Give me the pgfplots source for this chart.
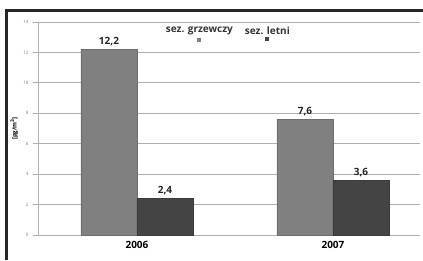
\documentclass[border=0pt]{standalone}
\usepackage{pgfplots}
\pgfplotsset{compat=1.18}
\usepackage{fontspec}
\setmainfont{Open Sans}
\definecolor{barA}{RGB}{128,128,128}
\definecolor{barB}{RGB}{68,68,68}
\definecolor{gridc}{RGB}{175,175,175}
\begin{document}
\begin{tikzpicture}[x=1pt,y=1pt]
\path[use as bounding box] (0,0) rectangle (423,260);
\fill[white] (0,0) rectangle (423,260);
\draw[line width=3pt, black!85] (6,0) -- (6,249) -- (423,249);
\begin{axis}[
  at={(38pt,25pt)}, anchor=south west, scale only axis,
  width=382pt, height=213pt,
  ymin=0, ymax=14, ytick={0,2,...,14},
  xmin=-0.505, xmax=1.444, xtick={0,1}, xticklabels={2006,2007},
  ybar=0pt, bar width=56pt,
  ymajorgrids, grid style={gridc, line width=0.8pt},
  axis x line*=bottom, axis y line*=left,
  axis line style={gridc, line width=0.8pt, -},
  x tick style={draw=none}, y tick style={gridc, line width=0.8pt},
  tick align=outside, major tick length=5pt,
  /pgf/number format/assume math mode=true,
  yticklabel style={font=\fontsize{4.5}{5}\selectfont, text=gray, xshift=-1pt},
  xticklabel style={font=\bfseries\fontsize{10}{11}\selectfont, yshift=2pt},
  ylabel={[pg/m\textsuperscript{3}]},
  ylabel style={font=\bfseries\fontsize{6}{7}\selectfont, at={(axis description cs:-0.062,0.5)}, anchor=center},
  nodes near coords,
  nodes near coords style={font=\bfseries\fontsize{10}{11}\selectfont, text=black!85, /pgf/number format/.cd, use comma, fixed, fixed zerofill, precision=1, assume math mode=true},
  legend style={draw=none, fill=none, at={(axis description cs:0.497,0.94)}, anchor=center, font=\bfseries\fontsize{10}{10}\selectfont, text=black!80, /tikz/every even column/.append style={column sep=8pt}},
  legend columns=2,
  legend image code/.code={},
]
\addplot[fill=barA, draw=barA!85!black, line width=0.6pt] coordinates {(0,12.2) (1,7.6)};
\addlegendentry{\shortstack{sez. grzewczy\\[0pt]\textcolor{barA}{\rule{4pt}{4pt}}}}
\addplot[fill=barB, draw=barB!85!black, line width=0.6pt] coordinates {(0,2.4) (1,3.6)};
\addlegendentry{\shortstack{sez. letni\\[0pt]\textcolor{barB}{\rule{4pt}{4pt}}}}
\end{axis}
\end{tikzpicture}
\end{document}
